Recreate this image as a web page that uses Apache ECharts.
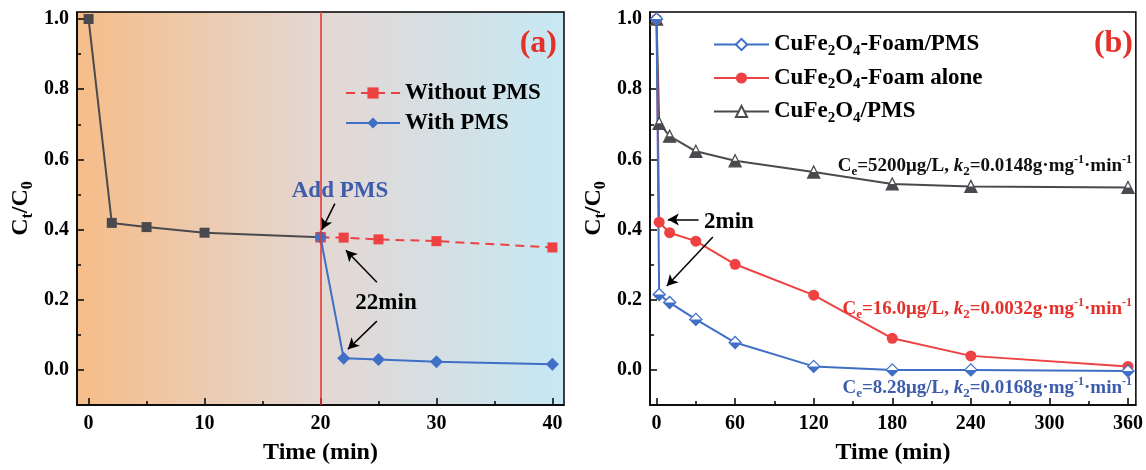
<!DOCTYPE html>
<html>
<head>
<meta charset="utf-8">
<script src="https://cdn.jsdelivr.net/npm/echarts@6/dist/echarts.min.js"></script>
<style>html,body{margin:0;padding:0;background:#fff;}#c{width:1146px;height:470px;}</style>
</head>
<body>
<div id="c"></div>
<script>
// ---------- data ----------
const timeA_before = [0, 2, 5, 10, 20];
const ctA_before   = [1.0, 0.419, 0.407, 0.391, 0.378];
const timeA_after  = [20, 22, 25, 30, 40];
const ctA_without  = [0.378, 0.377, 0.372, 0.367, 0.349];
const ctA_with     = [0.378, 0.033, 0.030, 0.023, 0.016];

const timeB        = [0, 2, 10, 30, 60, 120, 180, 240, 360];
const ctB_foamPMS  = [1.0, 0.215, 0.192, 0.144, 0.078, 0.010, 0.0, 0.0, -0.003];
const ctB_foamOnly = [1.0, 0.421, 0.391, 0.367, 0.301, 0.213, 0.090, 0.040, 0.010];
const ctB_cufePMS  = [1.0, 0.703, 0.666, 0.623, 0.596, 0.564, 0.530, 0.523, 0.520];

const ticksAx = [0, 10, 20, 30, 40];
const minorAx = [5, 15, 25, 35];
const ticksBx = [0, 60, 120, 180, 240, 300, 360];
const minorBx = [30, 90, 150, 210, 270, 330];
const ticksY  = [0, 0.2, 0.4, 0.6, 0.8, 1.0];
const minorY  = [0.1, 0.3, 0.5, 0.7, 0.9];

const namesA = ['Without PMS', 'With PMS'];
const namesB = ['CuFe2O4-Foam/PMS', 'CuFe2O4-Foam alone', 'CuFe2O4/PMS'];

// annotation arrows (data coordinates)
const arrowsA = [[[21.24, 0.474], [20.12, 0.400]], [[24.86, 0.250], [22.19, 0.341]], [[24.86, 0.139], [22.36, 0.059]]];
const arrowsB = [[[32.1, 0.429], [8.6, 0.429]], [[43.0, 0.379], [7.8, 0.239]]];

// ---------- style ----------
const FONT = 'Liberation Serif';
const BLUE = '#3f6fc6', RED = '#ee4242', GRAY = '#4a4a4e', TRED = '#e5302a', TBLUE = '#3d5cac';
const zip = (xs, ys) => xs.map((x, i) => [x, ys[i]]);
const bold = (size, extra) => Object.assign({fontSize: size, fontWeight: 'bold', fontFamily: FONT, color: '#000'}, extra || {});
const richName = {
  n: bold(23, {lineHeight: 28}),
  s: bold(15, {lineHeight: 15, verticalAlign: 'bottom'})
};
const richTitle = {
  n: bold(24, {lineHeight: 30}),
  s: bold(16, {lineHeight: 16, verticalAlign: 'bottom'})
};
function subFmt(name) {
  return name.split(/(\d)/).filter(p => p !== '').map(p => /\d/.test(p) ? '{s|' + p + '}' : '{n|' + p + '}').join('');
}

function xMain(g, min, max, ticks) {
  return {type: 'value', gridIndex: g, min, max, position: 'bottom',
    axisLine: {show: true, onZero: false, lineStyle: {color: '#000', width: 1.5}},
    axisTick: {show: true, inside: true, length: 7, customValues: ticks, lineStyle: {color: '#000', width: 1.5}},
    axisLabel: Object.assign(bold(20), {customValues: ticks, margin: 9}),
    splitLine: {show: false},
    name: 'Time (min)', nameLocation: 'middle', nameGap: 36, nameTextStyle: bold(24)};
}
function xMinor(g, min, max, ticks) {
  return {type: 'value', gridIndex: g, min, max, position: 'bottom',
    axisLine: {show: false, onZero: false},
    axisTick: {show: true, inside: true, length: 4, customValues: ticks, lineStyle: {color: '#000', width: 1.5}},
    axisLabel: {show: false}, splitLine: {show: false}};
}
function yMain(g) {
  return {type: 'value', gridIndex: g, min: -0.1, max: 1.02, position: 'left',
    axisLine: {show: true, onZero: false, lineStyle: {color: '#000', width: 1.5}},
    axisTick: {show: true, inside: true, length: 7, customValues: ticksY, lineStyle: {color: '#000', width: 1.5}},
    axisLabel: Object.assign(bold(20), {customValues: ticksY, margin: 8, formatter: v => v.toFixed(1)}),
    splitLine: {show: false},
    name: '{n|C}{s|t}{n|/C}{s|0}', nameLocation: 'middle', nameGap: 41,
    nameTextStyle: Object.assign(bold(24), {rich: richTitle})};
}
function yMinor(g) {
  return {type: 'value', gridIndex: g, min: -0.1, max: 1.02, position: 'left',
    axisLine: {show: false, onZero: false},
    axisTick: {show: true, inside: true, length: 4, customValues: minorY, lineStyle: {color: '#000', width: 1.5}},
    axisLabel: {show: false}, splitLine: {show: false}};
}

function arrowLines(list) {
  return {silent: true, symbol: ['none', 'arrow'], symbolSize: [9, 11], animation: false,
    label: {show: false}, lineStyle: {color: '#000', width: 1.5, type: 'solid'},
    emphasis: {disabled: true},
    data: list.map(a => [{coord: a[0]}, {coord: a[1]}])};
}

const halfDiamond = 'path://M0,0L2,0L1,1Z';
const halfTriangle = 'path://M0.25,0L0.75,0L1,0.5L0,0.5Z';

const option = {
  animation: false,
  backgroundColor: '#fff',
  grid: [
    {left: 77, top: 12, width: 487, height: 393, show: true, borderColor: '#000', borderWidth: 1.5,
     backgroundColor: {type: 'linear', x: 0, y: 0, x2: 1, y2: 0,
       colorStops: [{offset: 0, color: '#f6bd88'}, {offset: 0.5, color: '#e4d7d3'}, {offset: 1, color: '#c6e8f4'}]}},
    {left: 650, top: 12, width: 487, height: 393, show: true, borderColor: '#000', borderWidth: 1.5, backgroundColor: '#fff'}
  ],
  xAxis: [xMain(0, -1, 41, ticksAx), xMinor(0, -1, 41, minorAx), xMain(1, -5, 366, ticksBx), xMinor(1, -5, 366, minorBx)],
  yAxis: [yMain(0), yMinor(0), yMain(1), yMinor(1)],
  legend: [
    {left: 340, top: 76, orient: 'vertical', itemWidth: 54, itemHeight: 14, itemGap: 6, data: namesA,
     textStyle: bold(23, {lineHeight: 24})},
    {left: 708, top: 28, orient: 'vertical', itemWidth: 55, itemHeight: 14, itemGap: 8, data: namesB,
     formatter: subFmt, textStyle: Object.assign(bold(23), {rich: richName})}
  ],
  graphic: [
    {type: 'text', x: 557, y: 44, style: {text: '(a)', font: 'bold 32px "Liberation Serif"', fill: TRED, align: 'right', verticalAlign: 'middle'}},
    {type: 'text', x: 1133, y: 44, style: {text: '(b)', font: 'bold 32px "Liberation Serif"', fill: TRED, align: 'right', verticalAlign: 'middle'}},
    {type: 'text', x: 340, y: 191, style: {text: 'Add PMS', font: 'bold 23px "Liberation Serif"', fill: TBLUE, align: 'center', verticalAlign: 'middle'}},
    {type: 'text', x: 386, y: 303, style: {text: '22min', font: 'bold 23px "Liberation Serif"', fill: '#000', align: 'center', verticalAlign: 'middle'}},
    {type: 'text', x: 704, y: 222, style: {text: '2min', font: 'bold 23px "Liberation Serif"', fill: '#000', align: 'left', verticalAlign: 'middle'}}
  ].concat([
    ['5200', '0.0148', '#111', 166],
    ['16.0', '0.0032', TRED, 309],
    ['8.28', '0.0168', TBLUE, 388]
  ].map(([ce, k, col, y]) => ({
    type: 'text', x: 1132, y: y,
    style: {
      text: '{n|C}{b|e}{n|=' + ce + 'μg/L, }{i|k}{b|2}{n|=' + k + 'g·mg}{p|-1}{n|·min}{p|-1}',
      align: 'right', verticalAlign: 'middle', fill: col,
      rich: {
        n: {fontSize: 19, fontWeight: 'bold', fontFamily: FONT, fill: col, lineHeight: 24},
        i: {fontSize: 19, fontWeight: 'bold', fontStyle: 'italic', fontFamily: FONT, fill: col, lineHeight: 24},
        b: {fontSize: 13, fontWeight: 'bold', fontFamily: FONT, fill: col, lineHeight: 13, verticalAlign: 'bottom'},
        p: {fontSize: 12, fontWeight: 'bold', fontFamily: FONT, fill: col, lineHeight: 12, verticalAlign: 'top'}
      }
    }
  }))),
  series: [
    // ----- panel a -----
    {name: 'Before PMS', type: 'line', xAxisIndex: 0, yAxisIndex: 0, data: zip(timeA_before, ctA_before),
     symbol: 'rect', symbolSize: 10, itemStyle: {color: GRAY}, lineStyle: {color: GRAY, width: 2},
     markLine: {silent: true, symbol: 'none', animation: false, label: {show: false}, emphasis: {disabled: true},
       lineStyle: {color: '#e8302c', width: 1.5, type: 'solid'}, data: [{xAxis: 20}]}},
    {name: 'Without PMS', type: 'line', xAxisIndex: 0, yAxisIndex: 0, data: zip(timeA_after, ctA_without),
     symbol: 'rect', symbolSize: 10, itemStyle: {color: RED}, lineStyle: {color: RED, width: 2, type: [9, 6]},
     markLine: arrowLines(arrowsA)},
    {name: 'With PMS', type: 'line', xAxisIndex: 0, yAxisIndex: 0, data: zip(timeA_after, ctA_with),
     symbol: 'diamond', symbolSize: 13, itemStyle: {color: BLUE}, lineStyle: {color: BLUE, width: 2}},
    // ----- panel b -----
    {name: namesB[2], type: 'line', xAxisIndex: 2, yAxisIndex: 2, data: zip(timeB, ctB_cufePMS),
     symbol: 'triangle', symbolSize: 12, itemStyle: {color: '#fff', borderColor: GRAY, borderWidth: 1.3},
     lineStyle: {color: GRAY, width: 2}},
    {name: namesB[2], type: 'line', xAxisIndex: 2, yAxisIndex: 2, data: zip(timeB, ctB_cufePMS),
     symbol: halfTriangle, symbolSize: [12, 6], symbolOffset: [0, 3], itemStyle: {color: GRAY},
     lineStyle: {width: 0, opacity: 0}},
    {name: namesB[1], type: 'line', xAxisIndex: 2, yAxisIndex: 2, data: zip(timeB, ctB_foamOnly),
     symbol: 'circle', symbolSize: 11, itemStyle: {color: RED}, lineStyle: {color: RED, width: 2},
     markLine: arrowLines(arrowsB)},
    {name: namesB[0], type: 'line', xAxisIndex: 2, yAxisIndex: 2, data: zip(timeB, ctB_foamPMS),
     symbol: 'diamond', symbolSize: 12, itemStyle: {color: '#fff', borderColor: BLUE, borderWidth: 1.3},
     lineStyle: {color: BLUE, width: 2}},
    {name: namesB[0], type: 'line', xAxisIndex: 2, yAxisIndex: 2, data: zip(timeB, ctB_foamPMS),
     symbol: halfDiamond, symbolSize: [12, 6], symbolOffset: [0, 3], itemStyle: {color: BLUE},
     lineStyle: {width: 0, opacity: 0}}
  ]
};

const chart = echarts.init(document.getElementById('c'), null, {renderer: 'canvas'});
chart.setOption(option);
</script>
</body>
</html>
